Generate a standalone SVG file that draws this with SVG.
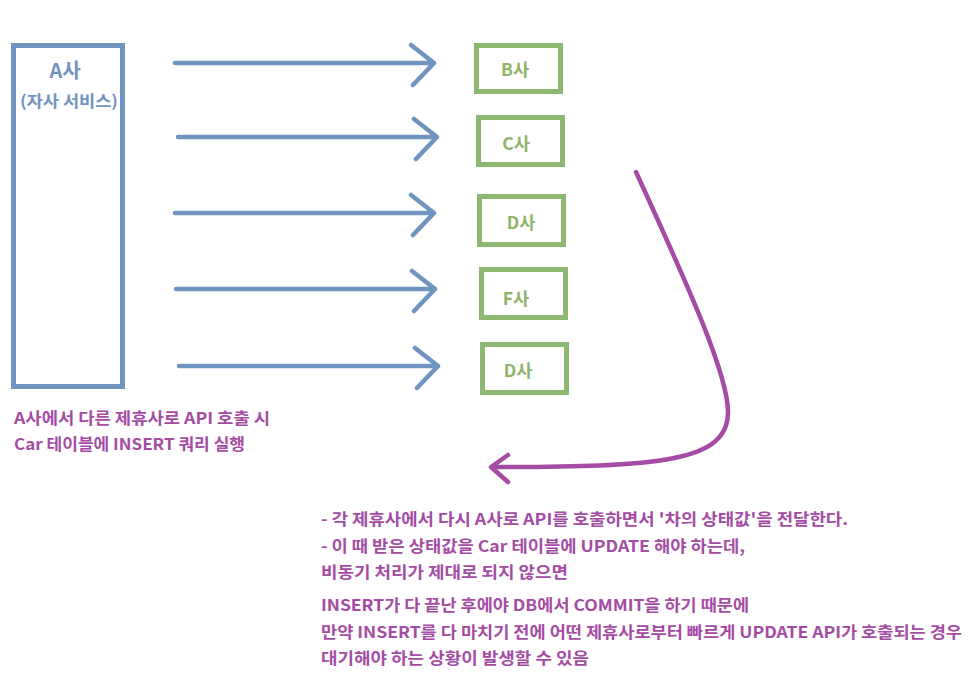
<svg xmlns="http://www.w3.org/2000/svg" width="971" height="686" viewBox="0 0 971 686">
<style>
text{font-family:"Noto Sans CJK KR","Noto Sans",sans-serif;font-weight:bold}
.blue{fill:none;stroke:#7094c0;stroke-width:4.5;stroke-linecap:round;stroke-linejoin:round}
.gbox{fill:#fff;stroke:#8db871;stroke-width:5}
.gt{fill:#8db468;font-size:17.5px}
.pt{fill:#a44ca4;font-size:16px}
.pl{fill:none;stroke:#a44ca4;stroke-width:4.5;stroke-linecap:round;stroke-linejoin:round}
</style>
<rect width="971" height="686" fill="#fff"/>
<g id="nodeA">
<rect x="13.5" y="45.5" width="109" height="341" fill="#fff" stroke="#7094c0" stroke-width="5"/>
<text x="65" y="78" text-anchor="middle" font-size="20" fill="#7094c0">A사</text>
<text x="20" y="107" font-size="16" fill="#7094c0" textLength="98" lengthAdjust="spacingAndGlyphs">(자사 서비스)</text>
</g>
<g id="nodeB"><rect class="gbox" x="476.5" y="45.5" width="84" height="46"/><text class="gt" x="515" y="76" text-anchor="middle">B사</text></g>
<g id="nodeC"><rect class="gbox" x="478.5" y="117.5" width="84" height="47"/><text class="gt" x="516" y="150" text-anchor="middle">C사</text></g>
<g id="nodeD1"><rect class="gbox" x="479.5" y="196.5" width="84" height="48"/><text class="gt" x="521" y="229" text-anchor="middle">D사</text></g>
<g id="nodeF"><rect class="gbox" x="481.5" y="269.5" width="84" height="48"/><text class="gt" x="516" y="305" text-anchor="middle">F사</text></g>
<g id="nodeD2"><rect class="gbox" x="482.5" y="344.5" width="84" height="48"/><text class="gt" x="518" y="377" text-anchor="middle">D사</text></g>
<g id="connectors">
<path class="blue" d="M175,63 H434 M411,45 L434,63 L413,85"/>
<path class="blue" d="M178,137 H437 M414,119 L437,137 L416,159"/>
<path class="blue" d="M175,213 H434 M411,195 L434,213 L413,235"/>
<path class="blue" d="M176,289 H435 M412,271 L435,289 L414,311"/>
<path class="blue" d="M179,366 H438 M415,348 L438,366 L417,388"/>
<path class="pl" d="M636,172 C690,290 728,375 728,412 C728,462 660,467 492,467 M508,455 L491,467 L508,482"/>
</g>
<g id="notes">
<text class="pt" x="14" y="424" textLength="256" lengthAdjust="spacingAndGlyphs">A사에서 다른 제휴사로 API 호출 시</text>
<text class="pt" x="14" y="450" textLength="231" lengthAdjust="spacingAndGlyphs">Car 테이블에 INSERT 쿼리 실행</text>
<text class="pt" x="321" y="525" textLength="527" lengthAdjust="spacingAndGlyphs">- 각 제휴사에서 다시 A사로 API를 호출하면서 '차의 상태값'을 전달한다.</text>
<text class="pt" x="321" y="552" textLength="424" lengthAdjust="spacingAndGlyphs">- 이 때 받은 상태값을 Car 테이블에 UPDATE 해야 하는데,</text>
<text class="pt" x="321" y="578" textLength="247" lengthAdjust="spacingAndGlyphs">비동기 처리가 제대로 되지 않으면</text>
<text class="pt" x="321" y="611" textLength="428" lengthAdjust="spacingAndGlyphs">INSERT가 다 끝난 후에야 DB에서 COMMIT을 하기 때문에</text>
<text class="pt" x="321" y="638" textLength="641" lengthAdjust="spacingAndGlyphs">만약 INSERT를 다 마치기 전에 어떤 제휴사로부터 빠르게 UPDATE API가 호출되는 경우</text>
<text class="pt" x="321" y="664" textLength="268" lengthAdjust="spacingAndGlyphs">대기해야 하는 상황이 발생할 수 있음</text>
</g>
</svg>
